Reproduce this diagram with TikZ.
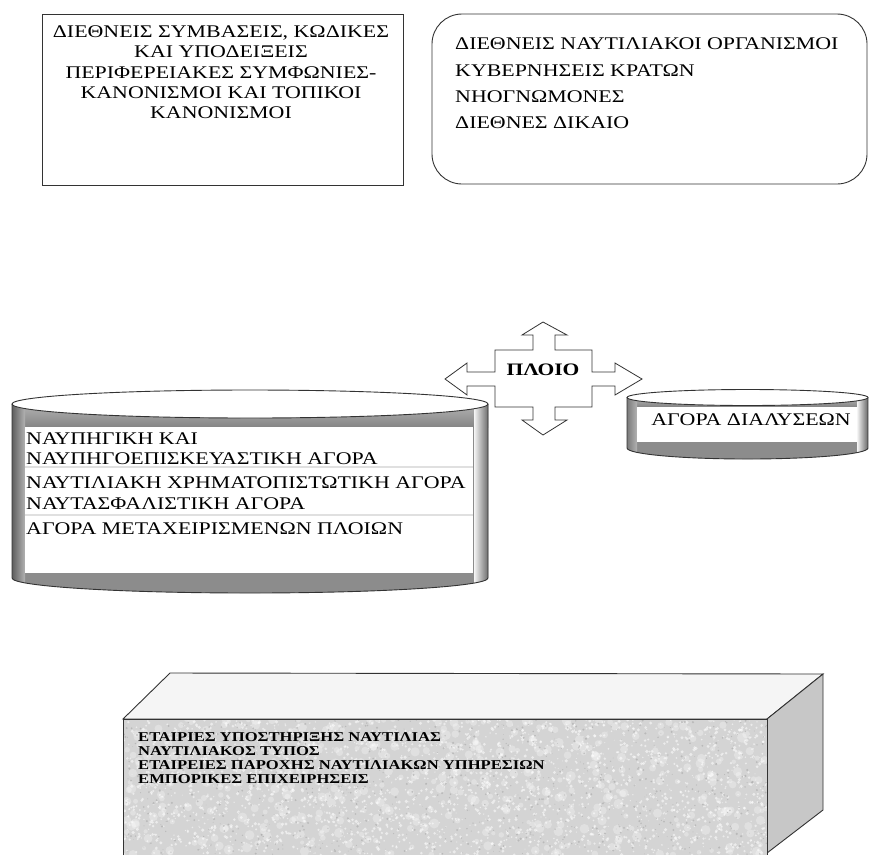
\documentclass[tikz,border=0pt]{standalone}
\usepackage{fontspec}
\setmainfont[FakeStretch=1.23]{Liberation Serif}
\begin{document}
\begin{tikzpicture}[x=1pt,y=-1pt]
\tikzset{
  outline/.style={draw=black!80, line width=0.9pt},
  txt/.style={inner sep=0pt, text=black, font=\fontsize{17.8}{20}\selectfont},
  txtbold/.style={inner sep=0pt, text=black, font=\fontsize{17.5}{20}\selectfont\bfseries},
  smalltxt/.style={inner sep=0pt, text=black, font=\fontsize{13.5}{15}\selectfont\bfseries},
}
\useasboundingbox (0,0) rectangle (869,855);
\fill[white] (0,0) rectangle (869,855);

% ---- conventions box ----
\draw[outline] (42,14) rectangle (403,185);
\node[txt, anchor=base] (c1) at (221,37) {ΔΙΕΘΝΕΙΣ ΣΥΜΒΑΣΕΙΣ, ΚΩΔΙΚΕΣ};
\node[txt, anchor=base] (c2) at (221,57) {ΚΑΙ ΥΠΟΔΕΙΞΕΙΣ};
\node[txt, anchor=base] (c3) at (221,78) {ΠΕΡΙΦΕΡΕΙΑΚΕΣ ΣΥΜΦΩΝΙΕΣ-};
\node[txt, anchor=base] (c4) at (221,98) {ΚΑΝΟΝΙΣΜΟΙ ΚΑΙ ΤΟΠΙΚΟΙ};
\node[txt, anchor=base] (c5) at (221,118) {ΚΑΝΟΝΙΣΜΟΙ};

% ---- organisations box ----
\draw[outline, rounded corners=30pt] (432,14) rectangle (867,184);
\node[txt, anchor=base west] (o1) at (455,49) {ΔΙΕΘΝΕΙΣ ΝΑΥΤΙΛΙΑΚΟΙ ΟΡΓΑΝΙΣΜΟΙ};
\node[txt, anchor=base west] (o2) at (455,76) {ΚΥΒΕΡΝΗΣΕΙΣ ΚΡΑΤΩΝ};
\node[txt, anchor=base west] (o3) at (455,102) {ΝΗΟΓΝΩΜΟΝΕΣ};
\node[txt, anchor=base west] (o4) at (455,128) {ΔΙΕΘΝΕΣ ΔΙΚΑΙΟ};

% ---- large cylinder: markets ----
\begin{scope}
  \clip (12,404) -- (12,578) arc[start angle=180,end angle=360,x radius=238pt,y radius=15pt] -- (488,404) -- cycle;
  \fill[black!45] (10,380) rectangle (490,600);
  \shade[top color=black!30, bottom color=black!48] (10,404) rectangle (490,427);
  \shade[left color=black!68, right color=black!30] (10,380) rectangle (25,600);
  \shade[left color=black!4, right color=black!65] (474,380) rectangle (490,600);
\end{scope}
\fill[white] (25,427) rectangle (473,573);
\draw[black!12, line width=1.2pt] (25,467) -- (473,467);
\draw[black!12, line width=1.2pt] (25,515) -- (473,515);
\draw[outline] (12,404) -- (12,578) arc[start angle=180,end angle=360,x radius=238pt,y radius=15pt] -- (488,404);
\draw[outline, fill=white] (250,404) ellipse[x radius=238pt, y radius=14pt];
\node[txt, anchor=base west] (m1) at (26,444) {ΝΑΥΠΗΓΙΚΗ ΚΑΙ};
\node[txt, anchor=base west] (m2) at (26,464) {ΝΑΥΠΗΓΟΕΠΙΣΚΕΥΑΣΤΙΚΗ ΑΓΟΡΑ};
\node[txt, anchor=base west] (m3) at (26,488) {ΝΑΥΤΙΛΙΑΚΗ ΧΡΗΜΑΤΟΠΙΣΤΩΤΙΚΗ ΑΓΟΡΑ};
\node[txt, anchor=base west] (m4) at (26,509) {ΝΑΥΤΑΣΦΑΛΙΣΤΙΚΗ ΑΓΟΡΑ};
\node[txt, anchor=base west] (m5) at (26,534) {ΑΓΟΡΑ ΜΕΤΑΧΕΙΡΙΣΜΕΝΩΝ ΠΛΟΙΩΝ};

% ---- small cylinder: demolition market ----
\begin{scope}
  \clip (627,397.5) -- (627,448) arc[start angle=180,end angle=360,x radius=120.5pt,y radius=11pt] -- (868,397.5) -- cycle;
  \fill[black!45] (620,380) rectangle (869,470);
  \shade[top color=black!30, bottom color=black!48] (620,397.5) rectangle (869,407);
  \shade[left color=black!68, right color=black!30] (620,380) rectangle (637,470);
  \shade[left color=black!4, right color=black!65] (857,380) rectangle (869,470);
\end{scope}
\fill[white] (637,407) rectangle (857,442);
\draw[outline] (627,397.5) -- (627,448) arc[start angle=180,end angle=360,x radius=120.5pt,y radius=11pt] -- (868,397.5);
\draw[outline, fill=white] (747.5,397.5) ellipse[x radius=120.5pt, y radius=8pt];
\node[txt, anchor=base] (dm) at (751,425) {ΑΓΟΡΑ ΔΙΑΛΥΣΕΩΝ};

% ---- four-way arrow: the ship ----
\draw[outline, fill=white, line width=0.8pt]
  (543,322) -- (567,335) -- (555,335) -- (555,350) -- (592,350) -- (592,372)
  -- (615,372) -- (615,363) -- (642,379) -- (615,395) -- (615,386) -- (592,386)
  -- (592,407) -- (555,407) -- (555,420) -- (567,420) -- (543,435) -- (522,420)
  -- (533,420) -- (533,407) -- (495,407) -- (495,386) -- (467,386) -- (467,395)
  -- (445,379) -- (467,363) -- (467,372) -- (495,372) -- (495,350) -- (533,350)
  -- (533,335) -- (522,335) -- cycle;
\node[txtbold, anchor=base] (ship) at (543,375) {ΠΛΟΙΟ};

% ---- block: support companies ----
\filldraw[outline, fill=black!4] (123,719) -- (170,673) -- (823,674) -- (767,719) -- cycle;
\filldraw[outline, fill=black!22] (767,719) -- (823,674) -- (823,810) -- (767,853) -- cycle;
\begin{scope}
  \clip (123,719) rectangle (767,855);
  \fill[black!17] (123,719) rectangle (767,855);
  \pgfmathsetseed{11}
  % soft light patches
  \foreach \k in {1,...,500}{
    \pgfmathsetmacro\px{123+644*rnd}
    \pgfmathsetmacro\py{719+136*rnd}
    \pgfmathsetmacro\pr{2+3*rnd}
    \fill[white, opacity=0.3] (\px,\py) circle[radius=\pr pt];
  }
  % fine grain
  \foreach \k in {1,...,2400}{
    \pgfmathsetmacro\px{123+644*rnd}
    \pgfmathsetmacro\py{719+136*rnd}
    \pgfmathsetmacro\pr{0.5+1.3*rnd}
    \fill[white, opacity=0.55] (\px,\py) circle[radius=\pr pt];
  }
  \foreach \k in {1,...,900}{
    \pgfmathsetmacro\px{123+644*rnd}
    \pgfmathsetmacro\py{719+136*rnd}
    \pgfmathsetmacro\pr{0.3+0.9*rnd}
    \fill[black!34, opacity=0.6] (\px,\py) circle[radius=\pr pt];
  }
\end{scope}
\draw[outline] (123,855) -- (123,719) -- (767,719) -- (767,855);
\node[smalltxt, anchor=base west] (s1) at (138,741) {ΕΤΑΙΡΙΕΣ ΥΠΟΣΤΗΡΙΞΗΣ ΝΑΥΤΙΛΙΑΣ};
\node[smalltxt, anchor=base west] (s2) at (138,755) {ΝΑΥΤΙΛΙΑΚΟΣ ΤΥΠΟΣ};
\node[smalltxt, anchor=base west] (s3) at (138,769) {ΕΤΑΙΡΕΙΕΣ ΠΑΡΟΧΗΣ ΝΑΥΤΙΛΙΑΚΩΝ ΥΠΗΡΕΣΙΩΝ};
\node[smalltxt, anchor=base west] (s4) at (138,783) {ΕΜΠΟΡΙΚΕΣ ΕΠΙΧΕΙΡΗΣΕΙΣ};
\end{tikzpicture}
\end{document}
